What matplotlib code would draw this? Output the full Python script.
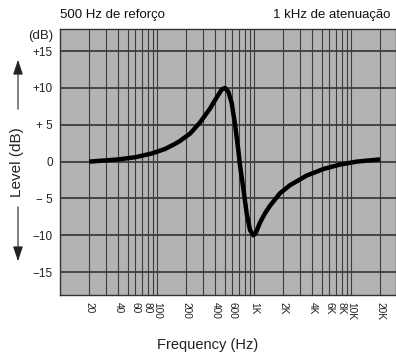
import numpy as np
import matplotlib
matplotlib.use("Agg")
import matplotlib.pyplot as plt

plt.rcParams['font.family'] = ['Liberation Sans', 'DejaVu Sans']

# curve
freq = [20, 40, 60, 88, 120, 153, 172, 219, 277, 352, 412, 465, 502, 543, 588, 637, 690,
        717, 774, 840, 910, 985, 1050, 1150, 1300, 1460, 1850, 2350, 3480, 5200, 7700, 11400, 19900]
level = [0.0, 0.3, 0.6, 1.1, 1.7, 2.4, 2.8, 3.8, 5.3, 7.2, 8.7, 9.8, 10.0, 9.5, 8.0, 5.1, 1.5,
         -0.5, -3.5, -7.0, -9.3, -10.0, -9.6, -8.3, -7.0, -6.0, -4.3, -3.2, -1.9, -1.0, -0.4, 0.0, 0.3]

grid_freqs = [20, 30, 40, 50, 60, 70, 80, 90, 100, 200, 300, 400, 500, 600, 700, 800, 900,
              1000, 2000, 3000, 4000, 5000, 6000, 7000, 8000, 9000, 10000, 20000]
xtick_pos = [20, 40, 60, 80, 100, 200, 400, 600, 1000, 2000, 4000, 6000, 8000, 10000, 20000]
xtick_lab = ['20', '40', '60', '80', '100', '200', '400', '600', '1K', '2K', '4K', '6K', '8K', '10K', '20K']
ytick_pos = [15, 10, 5, 0, -5, -10, -15]
ytick_lab = ['+15', '+10', '+ 5', '0', '\u2212 5', '\u221210', '\u221215']

fig = plt.figure(figsize=(3.96, 3.53), dpi=100)
ax = fig.add_axes([60/396, 1-295/353, 336/396, 266/353])
ax.set_facecolor('#b3b3b3')
ax.set_xscale('log')
ax.set_xlim(10, 29100)
ax.set_ylim(-18.1, 18.0)

for f in grid_freqs:
    ax.axvline(f, color='#3c3c3c', lw=0.8, zorder=1)
for y in ytick_pos:
    ax.axhline(y, color='#3c3c3c', lw=1.3, zorder=1)

ax.plot(freq, level, color='black', lw=3.2, solid_capstyle='butt', zorder=3)

ax.set_xticks(xtick_pos)
ax.set_xticklabels(xtick_lab, rotation=-90, fontsize=7.3, color='#222222')
ax.xaxis.set_minor_locator(matplotlib.ticker.NullLocator())
ax.set_yticks(ytick_pos)
ax.set_yticklabels(ytick_lab, fontsize=8.5, color='#222222')
ax.tick_params(length=0, pad=5)
for s in ax.spines.values():
    s.set_color('#333333')
    s.set_linewidth(1.0)

fig.text(60/396, 1-15/353, '500 Hz de reforço', fontsize=9.5, ha='left', va='center', color='#111111')
fig.text(390/396, 1-15/353, '1 kHz de atenuação', fontsize=9.5, ha='right', va='center', color='#111111')
fig.text(53/396, 1-36/353, '(dB)', fontsize=9.5, ha='right', va='center', color='#222222')
fig.text(17/396, 1-162/353, 'Level (dB)', fontsize=11, rotation=90, ha='center', va='center', color='#222222')
fig.text(208/396, 1-345/353, 'Frequency (Hz)', fontsize=10.5, ha='center', va='center', color='#222222')

# arrows next to the y label
fig.add_artist(matplotlib.patches.FancyArrowPatch((18/396, 1-112/353), (18/396, 1-57/353),
               transform=fig.transFigure, arrowstyle='-|>,head_length=9,head_width=3',
               color='#222222', lw=0.8))
fig.add_artist(matplotlib.patches.FancyArrowPatch((18/396, 1-204/353), (18/396, 1-264/353),
               transform=fig.transFigure, arrowstyle='-|>,head_length=9,head_width=3',
               color='#222222', lw=0.8))

fig.savefig('out.png', dpi=100)
